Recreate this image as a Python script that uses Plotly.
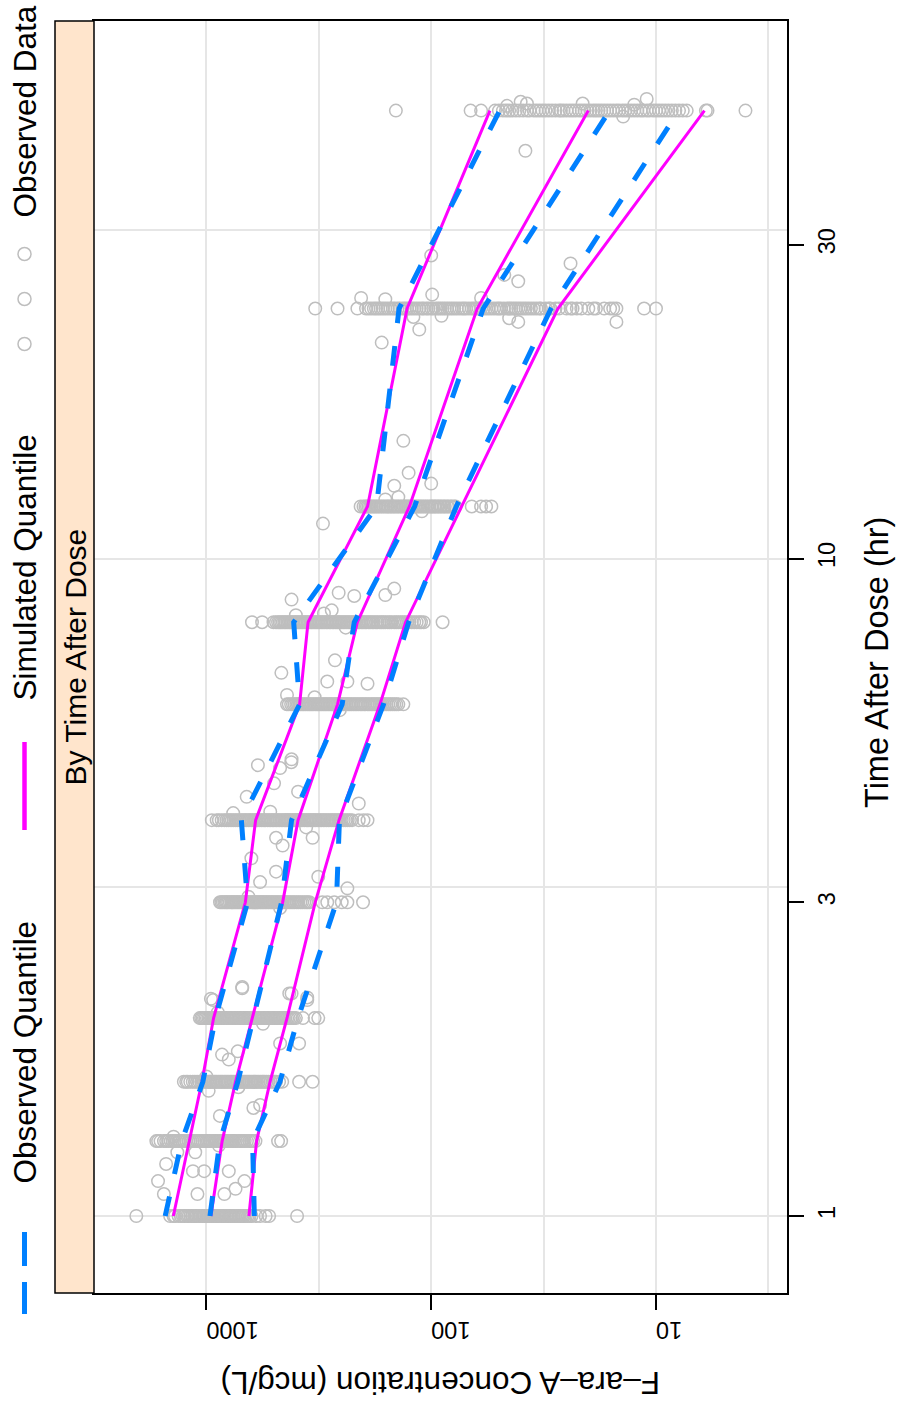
import plotly.graph_objects as go

# ---------------------------------------------------------------------------
# Data
# ---------------------------------------------------------------------------
# Nominal sampling times (hr) used for the quantile summaries
quantile_times = [1, 1.3, 1.6, 2, 3, 4, 6, 8, 12, 24, 48]

# Simulated quantiles (5th, 50th, 95th percentile), mcg/L
sim_q95 = [1403, 1190, 1047, 929, 671, 604, 385, 353, 192, 128, 54.8]
sim_q50 = [955, 851, 742, 626, 458, 391, 261, 213, 125, 62.4, 20.0]
sim_q05 = [647, 598, 521, 438, 328, 257, 169, 130, 73.2, 27.3, 6.09]

# Observed quantiles (5th, 50th, 95th percentile), mcg/L
obs_q95 = [1525, 1287, 1037, 912, 656, 699, 385, 409, 175, 139, 49.6]
obs_q50 = [964, 871, 725, 618, 463, 418, 249, 220, 118.5, 58.7, 16.1]
obs_q05 = [612, 623, 471, 391, 264, 256, 163, 126, 77.3, 29.3, 7.91]

# Observed concentrations sampled at the nominal times
conc_t1 = [2050, 1450, 1400, 1380, 1330, 1300, 1270, 1250, 1220, 1200, 1180,
           1160, 1150, 1130, 1120, 1105, 1090, 1075, 1060, 1045, 1030, 1015,
           1000, 990, 975, 962, 950, 940, 930, 918, 905, 892, 880, 870, 860,
           850, 840, 828, 815, 802, 790, 780, 770, 757, 745, 732, 720, 710, 700,
           690, 680, 667, 655, 643, 630, 600, 577, 545, 526, 395]
conc_t1_3 = [1670, 1640, 1600, 1545, 1510, 1480, 1440, 1410, 1385, 1360, 1335,
             1315, 1285, 1260, 1230, 1200, 1175, 1150, 1125, 1100, 1080, 1060,
             1040, 1020, 1000, 985, 970, 955, 940, 925, 910, 895, 880, 865, 850,
             840, 830, 815, 800, 788, 775, 765, 755, 740, 725, 712, 700, 690,
             675, 660, 645, 632, 620, 605, 480, 465]
conc_t1_6 = [1260, 1230, 1210, 1180, 1150, 1125, 1100, 1075, 1050, 1030, 1010,
             990, 975, 965, 955, 940, 925, 912, 900, 885, 870, 858, 845, 832,
             820, 808, 795, 782, 770, 758, 745, 735, 725, 712, 700, 690, 680,
             670, 660, 650, 640, 630, 620, 612, 605, 595, 585, 575, 565, 558,
             550, 540, 530, 518, 505, 497, 490, 475, 460, 387, 337]
conc_t2 = [1070, 1055, 1040, 1025, 1010, 995, 980, 967, 955, 942, 930, 917,
           905, 892, 880, 870, 860, 850, 840, 828, 815, 805, 795, 785, 775, 765,
           755, 745, 735, 725, 715, 708, 700, 690, 680, 670, 660, 652, 645, 637,
           630, 620, 610, 602, 595, 588, 580, 572, 565, 557, 550, 542, 535, 527,
           520, 512, 505, 497, 490, 482, 475, 467, 460, 452, 445, 437, 430, 422,
           415, 408, 400, 372, 330, 318]
conc_t3 = [870, 858, 845, 832, 820, 810, 800, 787, 775, 768, 760, 750, 740,
           730, 720, 710, 700, 690, 680, 672, 665, 657, 650, 640, 630, 622, 615,
           607, 600, 592, 585, 577, 570, 562, 555, 547, 540, 532, 525, 517, 510,
           502, 495, 487, 480, 472, 465, 457, 450, 442, 435, 427, 420, 412, 405,
           397, 390, 382, 375, 367, 360, 354, 348, 305, 290, 270, 250, 236, 201]
conc_t4 = [946, 900, 880, 855, 832, 815, 800, 785, 770, 755, 740, 725, 710,
           697, 685, 673, 662, 651, 640, 630, 620, 610, 600, 590, 580, 570, 560,
           552, 545, 535, 526, 518, 510, 502, 495, 487, 480, 472, 465, 457, 450,
           445, 440, 435, 430, 424, 418, 411, 405, 400, 395, 390, 385, 378, 372,
           366, 360, 355, 350, 345, 340, 336, 332, 327, 322, 317, 312, 307, 302,
           297, 292, 287, 282, 277, 273, 268, 264, 259, 255, 250, 245, 240, 235,
           230, 225, 210, 200, 192]
conc_t6 = [438, 430, 420, 412, 405, 398, 392, 386, 380, 374, 368, 362, 356,
           350, 345, 339, 333, 327, 322, 317, 312, 307, 302, 297, 293, 288, 284,
           279, 275, 270, 266, 262, 258, 254, 250, 246, 242, 238, 234, 230, 226,
           222, 218, 214, 210, 206, 203, 199, 196, 192, 189, 185, 182, 179, 176,
           173, 170, 167, 164, 161, 158, 155, 152, 149, 146, 143, 140, 133]
conc_t8 = [627, 565, 503, 490, 480, 472, 465, 457, 450, 443, 436, 429, 423,
           416, 410, 403, 397, 391, 385, 379, 373, 367, 361, 355, 350, 344, 339,
           333, 328, 323, 318, 313, 308, 303, 298, 293, 289, 284, 280, 275, 271,
           266, 262, 258, 254, 250, 246, 242, 238, 234, 230, 226, 222, 218, 215,
           211, 208, 204, 201, 197, 194, 190, 187, 183, 180, 176, 173, 169, 166,
           163, 160, 156, 153, 150, 146, 143, 140, 137, 134, 131, 128, 125, 122,
           119, 116, 113, 111, 108, 89]
conc_t12 = [206, 200, 196, 193, 190, 187, 184, 181, 178, 175, 172, 169, 166,
            163, 160, 157, 155, 152, 150, 147, 145, 142, 140, 137, 135, 132,
            130, 128, 126, 124, 122, 120, 118, 116, 114, 112, 110, 108, 106,
            104, 102, 100, 99, 97, 96, 94, 93, 91, 90, 88, 87, 85, 84, 82, 81,
            79, 78, 66, 60, 57, 54]
conc_t24 = [328, 261, 213, 195, 190, 185, 180, 176, 172, 168, 164, 160, 156,
            152, 148, 145, 141, 138, 134, 131, 128, 125, 122, 119, 116, 113,
            110, 108, 105, 103, 100, 98, 95, 93, 91, 89, 87, 85, 83, 81, 79, 77,
            75, 73, 71.5, 70, 68, 66, 64.5, 63, 61.5, 60, 58.5, 57, 55.5, 54,
            52.5, 51, 50, 49, 47.5, 46, 45, 44, 43, 42, 41, 40, 39, 38, 37, 36,
            35, 34, 33, 32.5, 31, 30, 29.5, 28, 27, 25, 24, 23.5, 22.5, 21.5,
            20, 19, 18.5, 17, 16, 15.5, 15, 11.3, 10]
conc_t48 = [143.6, 66.8, 60, 52, 50, 48, 46.5, 45, 43.5, 42, 40.5, 39, 37.5,
            36.5, 35, 34, 33, 32, 31, 30, 29, 28, 27, 26.5, 25.8, 25, 24.2,
            23.5, 22.8, 22, 21.4, 20.8, 20.2, 19.6, 19, 18.5, 18, 17.5, 17, 16.5,
            16, 15.5, 15, 14.6, 14.1, 13.7, 13.3, 12.9, 12.5, 12.1, 11.7, 11.4,
            11, 10.7, 10.3, 10, 9.7, 9.4, 9.1, 8.8, 8.5, 8.2, 7.9, 7.6, 7.3,
            6.0, 5.9, 4.0]

# Observations taken away from the nominal times
offtime_hr = [1.13, 1.08, 1.20, 1.17, 1.17, 1.17, 1.13, 1.10, 1.08, 1.08, 1.25,
              1.25, 1.42, 1.78, 1.46, 1.475, 1.55, 2.13, 1.76, 1.73, 1.83, 2.13,
              2.18, 2.22, 1.83, 2.23, 2.18, 2.15, 2.14, 3.76, 3.76, 3.66, 3.5,
              3.22, 3.34, 3.28, 3.15, 4.34, 4.85, 4.9, 4.42, 4.24, 4.55, 4.8,
              4.95, 6.7, 7.0, 6.5, 6.45, 6.5, 6.2, 8.66, 8.87, 8.77, 9.0, 8.8,
              8.34, 13.5, 13.0, 15.1, 12.9, 11.3, 21.3, 22.9, 22.3, 22.9, 24.9,
              25.2, 27.0, 26.4, 28.1, 28.9, 41.7, 50.0, 49.2, 49.2, 48.8,
              # small departures around the nominal times
              1.32, 1.28, 1.63, 1.57, 2.04, 1.96, 3.06, 2.94, 4.1, 3.9, 4.12,
              6.15, 5.88, 8.2, 7.85, 8.25, 12.3, 11.8, 12.4, 24.8, 23.3, 24.9,
              23.2, 23.4, 49.5, 47.0, 49.0]
offtime_conc = [1641, 1546, 1511, 1148, 1023, 795, 677, 742, 1096, 832, 1347,
                1121, 871, 725, 618, 577, 977, 933, 852, 795, 387, 356, 418, 693,
                470, 693, 428, 356, 955, 337, 490, 458, 631, 577, 490, 318, 236,
                662, 590, 419, 391, 210, 500, 470, 418, 464, 268, 290, 192, 236,
                438, 418, 258, 220, 146, 160, 277, 126, 100, 133, 146, 303, 166,
                15, 113, 41, 205, 99, 47.3, 41, 24, 100, 38.1, 11.0, 21.2, 37.5,
                46,
                1400, 880, 1000, 720, 890, 560, 650, 470, 760, 360, 520,
                330, 255, 400, 240, 300, 160, 110, 140, 160, 120, 60, 45, 90,
                40, 14, 12.5]

# Axis tick labels
conc_ticks = [1000, 100, 10]
conc_ticktext = ["1000", "100", "10"]
time_ticks = [1, 3, 10, 30]
time_ticktext = ["1", "3", "10", "30"]

# ---------------------------------------------------------------------------
# Assemble observations
# ---------------------------------------------------------------------------
clusters = [conc_t1, conc_t1_3, conc_t1_6, conc_t2, conc_t3, conc_t4, conc_t6,
            conc_t8, conc_t12, conc_t24, conc_t48]
obs_time, obs_conc = [], []
for t, values in zip(quantile_times, clusters):
    obs_time += [t] * len(values)
    obs_conc += values
obs_time += offtime_hr
obs_conc += offtime_conc

# ---------------------------------------------------------------------------
# Styling / geometry
# ---------------------------------------------------------------------------
FONT = "Liberation Sans, Arial, Helvetica, sans-serif"
W, H = 899, 1409
PL, PR, PT, PB = 94, 787, 21, 1293          # panel box in pixels
GRID = "#E6E6E6"
POINT = "#BEBEBE"
MAGENTA = "#FF00FF"
BLUE = "#0080FF"


def px(x):
    return (x - PL) / (PR - PL)


def py(y):
    return (PB - y) / (PB - PT)


fig = go.Figure()

# Observed data (open circles)
fig.add_trace(go.Scatter(
    x=obs_conc, y=obs_time, mode="markers",
    marker=dict(symbol="circle-open", size=12.5, color=POINT,
                line=dict(width=1.5, color=POINT)),
    showlegend=False, hoverinfo="skip"))

# Simulated quantiles (solid magenta)
for q in (sim_q95, sim_q50, sim_q05):
    fig.add_trace(go.Scatter(
        x=q, y=quantile_times, mode="lines",
        line=dict(color=MAGENTA, width=3),
        showlegend=False, hoverinfo="skip"))

# Observed quantiles (dashed blue)
for q in (obs_q95, obs_q50, obs_q05):
    fig.add_trace(go.Scatter(
        x=q, y=quantile_times, mode="lines",
        line=dict(color=BLUE, width=5, dash="20px,23px"),
        showlegend=False, hoverinfo="skip"))

fig.update_xaxes(
    type="log", range=[3.5, 0.4173],
    tickmode="array", tickvals=conc_ticks, ticktext=conc_ticktext,
    ticks="outside", ticklen=15, tickwidth=1.5, tickcolor="black",
    tickangle=180, tickfont=dict(family=FONT, size=23.5, color="black"),
    ticklabelstandoff=8,
    showgrid=False, zeroline=False,
    showline=True, linecolor="black", linewidth=1.5, mirror=True,
    minor=dict(tickmode="array",
               tickvals=[3.1623, 10, 31.623, 100, 316.23, 1000],
               showgrid=True, gridcolor=GRID, gridwidth=1.5, ticks=""),
)
fig.update_yaxes(
    type="log", range=[-0.1171, 1.8175], side="right",
    tickmode="array", tickvals=time_ticks, ticktext=time_ticktext,
    ticks="outside", ticklen=15, tickwidth=1.5, tickcolor="black",
    tickangle=-90, tickfont=dict(family=FONT, size=23.5, color="black"),
    ticklabelstandoff=3,
    showgrid=False, zeroline=False,
    showline=True, linecolor="black", linewidth=1.5, mirror=True,
    minor=dict(tickmode="array", tickvals=[1, 3.1623, 10, 31.623],
               showgrid=True, gridcolor=GRID, gridwidth=1.5, ticks=""),
)

shapes = []
annotations = []

# Strip with its label
shapes.append(dict(type="rect", xref="paper", yref="paper",
                   x0=px(55), x1=px(94), y0=0, y1=1,
                   fillcolor="#FFE5CC", line=dict(color="black", width=1.5),
                   layer="above"))
annotations.append(dict(text="By Time After Dose", xref="paper", yref="paper",
                        x=px(74.5), y=py(657), textangle=-90, showarrow=False,
                        xanchor="center", yanchor="middle",
                        font=dict(family=FONT, size=30, color="black")))

# Key along the top of the (rotated) figure
LX = 24.5
annotations.append(dict(text="Observed Data", xref="paper", yref="paper",
                        x=px(LX), y=py(112), textangle=-90, showarrow=False,
                        xanchor="center", yanchor="middle",
                        font=dict(family=FONT, size=31.5, color="black")))
for cy in (254, 299, 344):
    shapes.append(dict(type="circle", xref="paper", yref="paper",
                       x0=px(LX - 6.5), x1=px(LX + 6.5),
                       y0=py(cy + 6.5), y1=py(cy - 6.5),
                       line=dict(color=POINT, width=1.5)))
annotations.append(dict(text="Simulated Quantile", xref="paper", yref="paper",
                        x=px(LX), y=py(568), textangle=-90, showarrow=False,
                        xanchor="center", yanchor="middle",
                        font=dict(family=FONT, size=31.5, color="black")))
shapes.append(dict(type="line", xref="paper", yref="paper",
                   x0=px(LX), x1=px(LX), y0=py(742), y1=py(830),
                   line=dict(color=MAGENTA, width=4.5)))
annotations.append(dict(text="Observed Quantile", xref="paper", yref="paper",
                        x=px(LX), y=py(1052), textangle=-90, showarrow=False,
                        xanchor="center", yanchor="middle",
                        font=dict(family=FONT, size=31.5, color="black")))
for y0, y1 in ((1232, 1266), (1282, 1314)):
    shapes.append(dict(type="line", xref="paper", yref="paper",
                       x0=px(LX), x1=px(LX), y0=py(y0), y1=py(y1),
                       line=dict(color=BLUE, width=5)))

# Axis titles
annotations.append(dict(text="Time After Dose (hr)", xref="paper", yref="paper",
                        x=px(877), y=py(663), textangle=-90, showarrow=False,
                        xanchor="center", yanchor="middle",
                        font=dict(family=FONT, size=32.5, color="black")))
annotations.append(dict(text="F\u2013ara\u2013A Concentration (mcg/L)",
                        xref="paper", yref="paper",
                        x=px(440.5), y=py(1383), textangle=180, showarrow=False,
                        xanchor="center", yanchor="middle",
                        font=dict(family=FONT, size=31.5, color="black")))

fig.update_layout(
    width=W, height=H, autosize=False,
    margin=dict(l=PL, r=W - PR, t=PT, b=H - PB, pad=0),
    plot_bgcolor="white", paper_bgcolor="white",
    shapes=shapes, annotations=annotations, showlegend=False,
)

fig.write_html("out.html")
